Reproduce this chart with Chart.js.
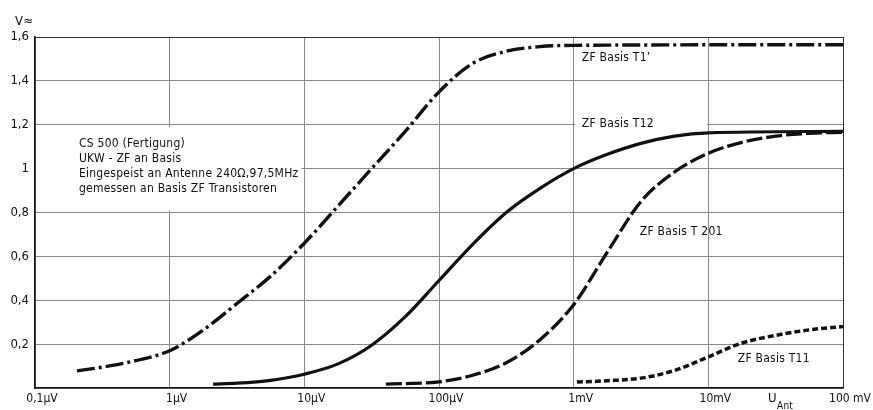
<!DOCTYPE html>
<html>
<head>
<meta charset="utf-8">
<script src="https://cdn.jsdelivr.net/npm/chart.js@4"></script>
<style>
  html, body { margin: 0; background: #fff; }
  #wrap { width: 873px; height: 410px; }
</style>
</head>
<body>
<div id="wrap"><canvas id="c"></canvas></div>
<script>
// x in µV, y in V
const xTicks = [0.1, 1, 10, 100, 1000, 10000, 100000];
const xTickLabels = ['0,1µV', '1µV', '10µV', '100µV', '1mV', '10mV', '100 mV'];

const t1Uin = [0.205, 0.316, 0.562, 1, 1.78, 3.16, 5.62, 10, 17.8, 31.6, 56.2, 100, 178, 316, 562, 1000, 100000];
const t1V   = [0.078, 0.095, 0.125, 0.17, 0.265, 0.385, 0.51, 0.66, 0.83, 1.0, 1.17, 1.35, 1.48, 1.535, 1.556, 1.562, 1.565];

const t12Uin = [2.1, 3.16, 5.62, 10, 17.8, 31.6, 56.2, 100, 178, 316, 562, 1000, 1780, 3160, 5620, 10000, 100000];
const t12V   = [0.018, 0.022, 0.035, 0.063, 0.11, 0.195, 0.325, 0.49, 0.655, 0.80, 0.91, 1.0, 1.065, 1.115, 1.148, 1.163, 1.17];

const t201Uin = [40.3, 56.2, 100, 178, 316, 562, 1000, 1780, 3160, 5620, 10000, 17800, 31600, 56200, 100000];
const t201V   = [0.018, 0.02, 0.028, 0.058, 0.115, 0.22, 0.38, 0.62, 0.85, 0.985, 1.07, 1.12, 1.148, 1.161, 1.166];

const t11Uin = [1057, 1780, 3160, 5620, 10000, 17800, 31600, 56200, 100000];
const t11V   = [0.027, 0.033, 0.045, 0.08, 0.142, 0.205, 0.24, 0.265, 0.28];

const infoLines = [
  'CS 500 (Fertigung)',
  'UKW - ZF an Basis',
  'Eingespeist an Antenne 240Ω,97,5MHz',
  'gemessen an Basis ZF Transistoren'
];

// curve labels: text, x (µV), y (V)
const curveNotes = [
  ['ZF Basis T1’', 1150, 1.507],
  ['ZF Basis T12', 1150, 1.205],
  ['ZF Basis T 201', 3100, 0.712],
  ['ZF Basis T11', 16550, 0.132]
];

const FONT = "'DejaVu Sans Condensed', 'DejaVu Sans', sans-serif";

function pts(xs, ys) {
  return xs.map((x, i) => ({ x: x, y: ys[i] }));
}

function line(label, xs, ys, dash, width) {
  return {
    label: label,
    data: pts(xs, ys),
    borderColor: '#111',
    borderWidth: width,
    borderDash: dash,
    borderCapStyle: 'butt',
    pointRadius: 0,
    fill: false,
    cubicInterpolationMode: 'monotone'
  };
}

const textPlugin = {
  id: 'texts',
  beforeDatasetsDraw(chart) {
    const ctx = chart.ctx;
    const x = chart.scales.x, y = chart.scales.y;
    ctx.save();
    ctx.fillStyle = '#fff';
    // paper cut-out behind the info block
    ctx.fillRect(chart.chartArea.left + 1, y.getPixelForValue(1.19), x.getPixelForValue(9.5) - chart.chartArea.left - 1, y.getPixelForValue(0.81) - y.getPixelForValue(1.19));
    // and behind the T12 label
    ctx.fillRect(x.getPixelForValue(1030), y.getPixelForValue(1.23), x.getPixelForValue(9800) - x.getPixelForValue(1030), y.getPixelForValue(1.17) - y.getPixelForValue(1.23));
    ctx.restore();
  },
  afterDraw(chart) {
    const ctx = chart.ctx;
    const x = chart.scales.x, y = chart.scales.y;
    ctx.save();
    ctx.fillStyle = '#111';
    ctx.font = '12px ' + FONT;
    ctx.letterSpacing = '0.25px';
    ctx.textBaseline = 'middle';
    ctx.textAlign = 'left';
    const bx = x.getPixelForValue(0.212);
    infoLines.forEach((t, i) => {
      ctx.fillText(t, bx, y.getPixelForValue(1.114) + i * 15);
    });
    curveNotes.forEach(n => {
      ctx.fillText(n[0], x.getPixelForValue(n[1]), y.getPixelForValue(n[2]));
    });
    // axis titles
    ctx.font = '13px ' + FONT;
    ctx.fillText('V≈', 15, 22);
    const ux = 768, uy = chart.chartArea.bottom + 11;
    ctx.fillText('U', ux, uy);
    ctx.font = '10px ' + FONT;
    ctx.fillText('Ant', ux + 9, uy + 7);
    ctx.restore();
  }
};

new Chart(document.getElementById('c'), {
  type: 'line',
  data: {
    datasets: [
      line('ZF Basis T1’', t1Uin, t1V, [18, 4, 3, 4], 3.4),
      line('ZF Basis T12', t12Uin, t12V, [], 3.2),
      line('ZF Basis T 201', t201Uin, t201V, [16, 4], 3.3),
      line('ZF Basis T11', t11Uin, t11V, [6, 3], 3.5)
    ]
  },
  options: {
    responsive: true,
    maintainAspectRatio: false,
    animation: false,
    layout: { padding: { top: 37, right: 30, bottom: 0, left: 0 } },
    plugins: {
      legend: { display: false },
      tooltip: { enabled: false }
    },
    scales: {
      x: {
        type: 'logarithmic',
        min: 0.1,
        max: 100000,
        afterBuildTicks: s => { s.ticks = xTicks.map(v => ({ value: v })); },
        afterFit: s => { s.height = 22; },
        grid: {
          color: ctx => (ctx.tick && ctx.tick.value === 100000 ? '#333' : '#8a8a8a'),
          lineWidth: 1,
          drawTicks: false
        },
        border: { color: '#111', width: 1.6 },
        ticks: {
          color: '#111',
          font: { family: FONT, size: 12 },
          padding: 4,
          labelOffset: 7,
          maxRotation: 0,
          autoSkip: false,
          callback: (v, i) => xTickLabels[i]
        }
      },
      y: {
        min: 0,
        max: 1.6,
        afterFit: s => { s.width = 35; },
        grid: {
          color: ctx => (ctx.tick && ctx.tick.value === 1.6 ? '#333' : '#8a8a8a'),
          lineWidth: 1,
          drawTicks: false
        },
        border: { color: '#111', width: 1.6 },
        ticks: {
          stepSize: 0.2,
          color: '#111',
          font: { family: FONT, size: 13 },
          padding: 6,
          callback: v => {
            const r = Math.round(v * 10) / 10;
            return r === 0 ? '' : String(r).replace('.', ',');
          }
        }
      }
    }
  },
  plugins: [textPlugin]
});
</script>
</body>
</html>
